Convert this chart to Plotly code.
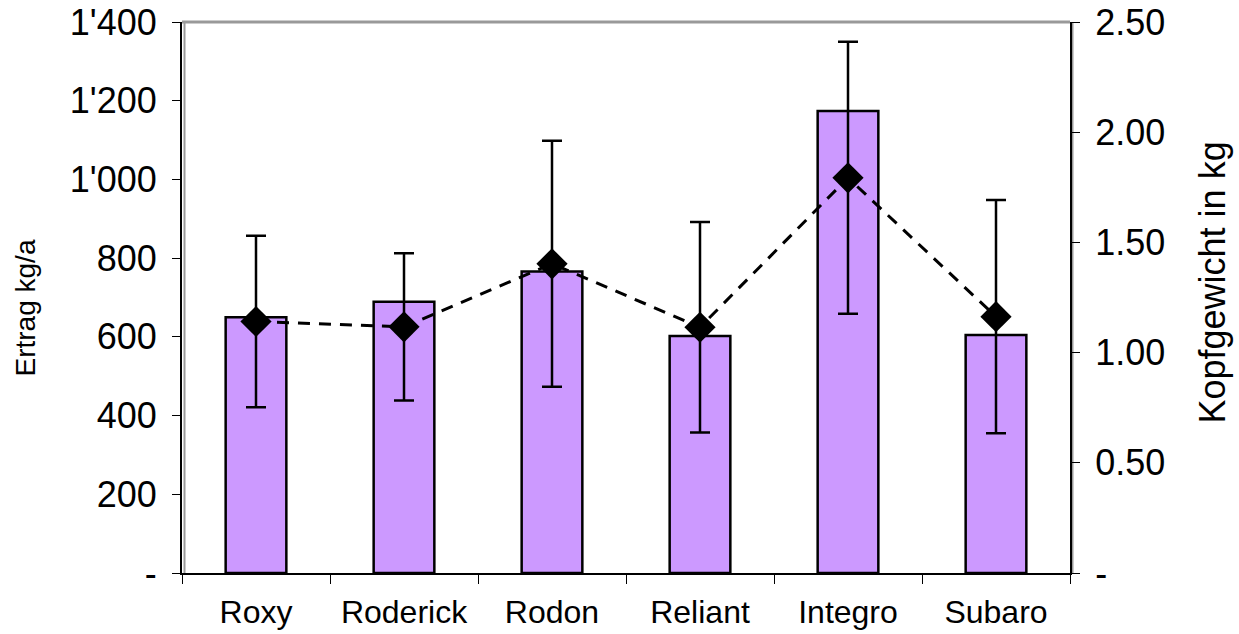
import plotly.graph_objects as go

categories = ["Roxy", "Roderick", "Rodon", "Reliant", "Integro", "Subaro"]
ertrag = [650, 689, 766, 602, 1174, 605]
kopfgewicht = [1.141, 1.117, 1.403, 1.115, 1.793, 1.163]
kopf_err = [0.389, 0.334, 0.558, 0.477, 0.617, 0.529]

left_vals = [0, 200, 400, 600, 800, 1000, 1200, 1400]
left_text = ["-", "200", "400", "600", "800", "1'000", "1'200", "1'400"]
right_vals = [0, 0.5, 1.0, 1.5, 2.0, 2.5]
right_text = ["-", "0.50", "1.00", "1.50", "2.00", "2.50"]

FONT = "Liberation Sans, Arial, sans-serif"
NUMSIZE = 36
CATSIZE = 32

fig = go.Figure()
fig.add_trace(go.Bar(
    x=categories, y=ertrag, width=0.41,
    marker=dict(color="#CC99FF", line=dict(color="black", width=2.5)),
    showlegend=False, yaxis="y",
))
fig.add_trace(go.Scatter(
    x=categories, y=kopfgewicht, yaxis="y2", mode="lines+markers",
    line=dict(color="black", width=3, dash="12px,9px"),
    marker=dict(symbol="diamond", size=24, color="black"),
    error_y=dict(type="data", array=kopf_err, visible=True, color="black",
                 thickness=2.5, width=10),
    showlegend=False,
))

fig.update_layout(
    width=1239, height=634,
    margin=dict(l=182, r=169, t=22, b=61, autoexpand=False),
    paper_bgcolor="white", plot_bgcolor="white",
    font=dict(family=FONT, size=NUMSIZE, color="black"),
    xaxis=dict(
        range=[-0.5, 5.5], showgrid=False, zeroline=False, automargin=False,
        showline=True, linecolor="black", linewidth=2,
        ticks="outside", ticklen=9, tickwidth=1, tickcolor="black",
        tickson="boundaries", tickfont=dict(size=CATSIZE, family=FONT),
        tickangle=0, ticklabelstandoff=10, ticklabeloverflow="allow",
    ),
    yaxis=dict(
        range=[0, 1400], tickvals=left_vals, ticktext=left_text,
        showgrid=False, zeroline=False, automargin=False,
        showline=True, linecolor="black", linewidth=2,
        ticks="outside", ticklen=8, tickwidth=1, tickcolor="black",
        tickfont=dict(size=NUMSIZE, family=FONT),
        ticklabelstandoff=8, ticklabeloverflow="allow",
    ),
    yaxis2=dict(
        range=[0, 2.5], tickvals=right_vals, ticktext=right_text,
        overlaying="y", side="right", showgrid=False, zeroline=False, automargin=False,
        showline=True, linecolor="black", linewidth=2,
        ticks="outside", ticklen=8, tickwidth=1, tickcolor="black",
        tickfont=dict(size=NUMSIZE, family=FONT),
        ticklabelstandoff=8, ticklabeloverflow="allow",
    ),
    shapes=[
        dict(type="line", xref="paper", yref="paper", x0=0, x1=1, y0=1, y1=1,
             line=dict(color="#999999", width=3), layer="below"),
        dict(type="line", xref="paper", yref="paper", xsizemode="pixel", xanchor=0,
             x0=2.5, x1=2.5, y0=0, y1=1, line=dict(color="#9a9a9a", width=2), layer="below"),
        dict(type="line", xref="paper", yref="paper", xsizemode="pixel", xanchor=1,
             x0=2.5, x1=2.5, y0=0, y1=1, line=dict(color="#9a9a9a", width=2), layer="below"),
    ],
    annotations=[
        dict(text="Ertrag kg/a", xref="paper", yref="paper", x=0, y=0.5,
             xshift=-157, yshift=-11, textangle=-90, showarrow=False,
             xanchor="center", yanchor="middle", font=dict(size=28, family=FONT)),
        dict(text="Kopfgewicht in kg", xref="paper", yref="paper", x=1, y=0.5,
             xshift=142, yshift=15, textangle=-90, showarrow=False,
             xanchor="center", yanchor="middle", font=dict(size=36, family=FONT)),
    ],
)

fig.write_html("out.html", config={"displayModeBar": False},
               post_script="document.body.style.margin='0';document.body.style.overflow='hidden';")
